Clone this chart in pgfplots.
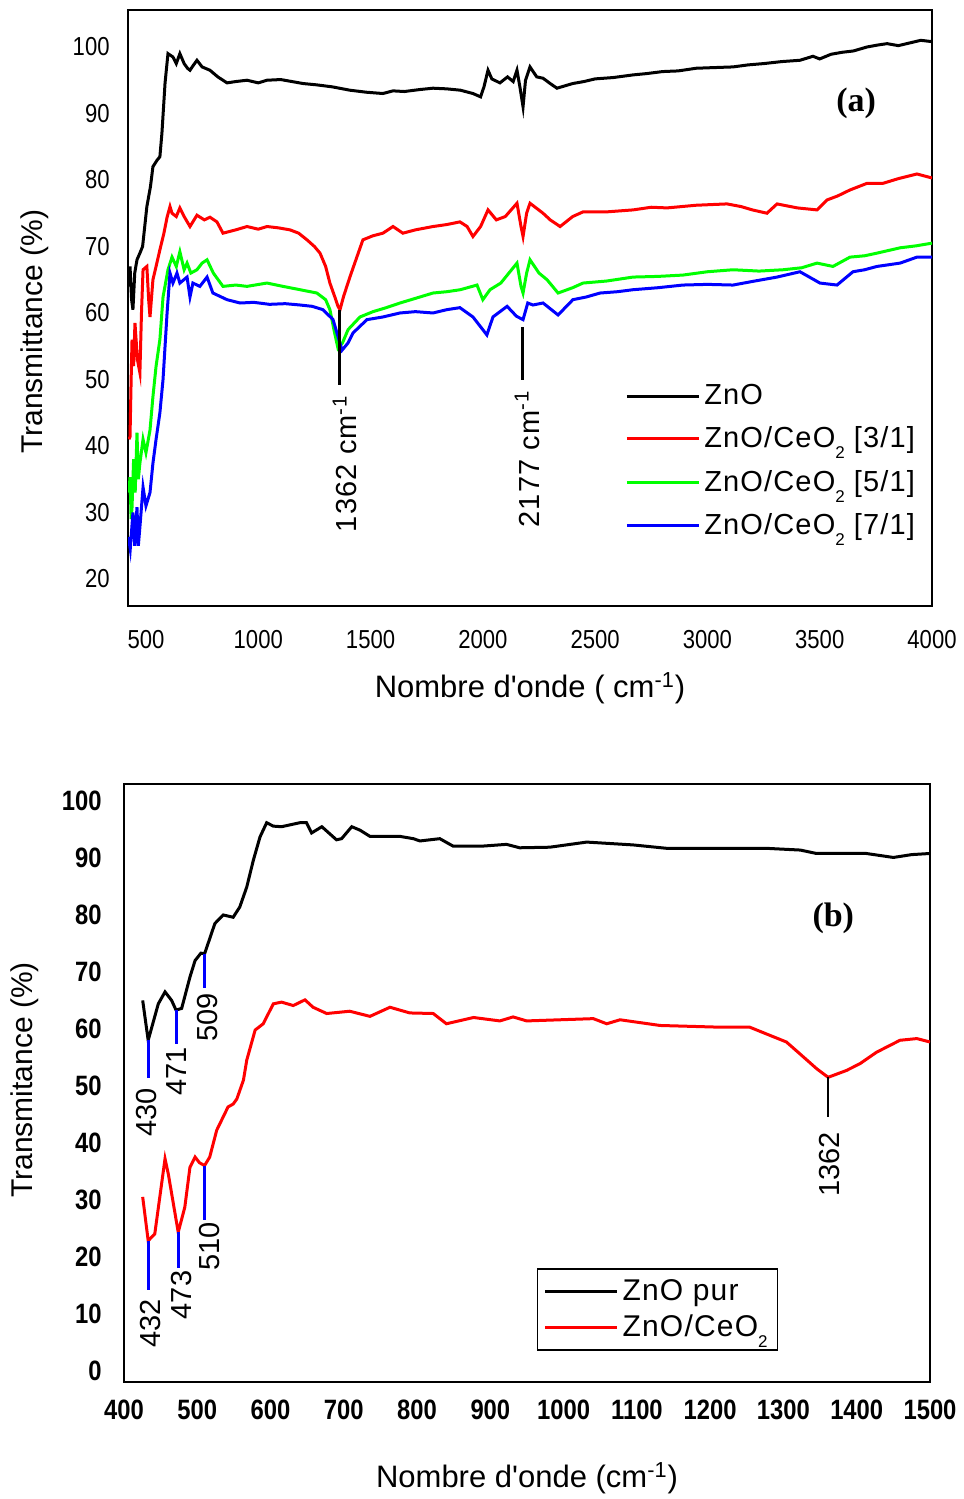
\documentclass[border=0pt]{standalone}
\usepackage{fontspec}
\setmainfont{Liberation Sans}
\newfontfamily\narrowfont[FakeStretch=0.85]{Liberation Sans}
\newfontfamily\legfont[LetterSpace=4]{Liberation Sans}
\newfontfamily\tnr{Liberation Serif}
\usepackage{pgfplots}
\pgfplotsset{compat=1.18}
\definecolor{cred}{RGB}{255,0,0}
\definecolor{cgreen}{RGB}{0,255,0}
\definecolor{cblue}{RGB}{0,0,255}
\newcommand{\subtwo}{\raisebox{-5.5bp}{\fontsize{8.5bp}{8.5bp}\selectfont 2}}

\begin{document}
\begin{tikzpicture}
\path[use as bounding box] (0bp,0bp) rectangle (482bp,749.5bp);
% --- (a) full range spectra ---
\begin{axis}[
    at={(64bp,446.5bp)}, anchor=south west,
    scale only axis, width=402bp, height=298bp,
    xmin=420, xmax=4000, ymin=15.94, ymax=105.56,
    xtick={500,1000,...,4000}, ytick={20,30,...,100},
    major tick length=0pt,
    axis line style={line width=1.2bp},
    /pgf/number format/1000 sep={},
    /pgf/number format/assume math mode=true,
    ticklabel style={font=\narrowfont\fontsize{13bp}{15bp}\selectfont},
    xticklabel style={anchor=center, yshift=-17bp},
    yticklabel style={anchor=east, inner sep=0pt, xshift=-9bp},
    xlabel={Nombre d\textquotesingle onde ( cm\textsuperscript{-1})},
    xlabel style={font=\fontsize{15.5bp}{17bp}\selectfont, at={(axis description cs:0.5,-0.1376)}, anchor=center},
    ylabel={Transmittance (\%)},
    ylabel style={font=\fontsize{15bp}{17bp}\selectfont, at={(axis description cs:-0.1157,0.46)}, anchor=center},
    no markers,
    every axis plot/.append style={line width=1.5bp},
    legend style={at={(0.618,0.379)}, anchor=north west, draw=none, fill=none,
                  font=\legfont\fontsize{14.5bp}{17bp}\selectfont, inner sep=0pt, row sep=5.6bp},
    legend cell align=left,
    legend image code/.code={\draw[#1] (0bp,0bp) -- (36bp,0bp);}
]
\addplot[black] coordinates {(422,64)(429,67)(436,62)(442,60.5)(450,66)(460,68)(473,69)(485,70)(504,76)(520,79)(531,82)(550,83)(562,83.5)(571,87)(585,94.6)(598,99)(620,98.5)(635,97.5)(651,99)(670,97.5)(685,96.8)(696,96.5)(710,97.2)(727,98)(750,97)(785,96.5)(820,95.5)(861,94.6)(900,94.8)(950,95)(1000,94.6)(1039,95)(1100,95.1)(1150,94.8)(1200,94.5)(1261,94.3)(1330,94)(1408,93.5)(1480,93.2)(1555,93)(1600,93.4)(1650,93.3)(1720,93.6)(1778,93.8)(1840,93.7)(1900,93.5)(1956,93)(1990,92.5)(2005,94)(2023,96.5)(2040,95.2)(2076,94.6)(2110,95.5)(2135,94.8)(2152,96.5)(2165,94)(2179,91)(2190,95)(2210,97)(2240,95.5)(2268,95.3)(2300,94.5)(2330,93.8)(2400,94.5)(2450,94.8)(2500,95.2)(2580,95.4)(2669,95.8)(2730,96)(2800,96.3)(2870,96.4)(2950,96.8)(3030,96.9)(3114,97)(3180,97.3)(3250,97.5)(3330,97.8)(3412,98)(3470,98.6)(3500,98.2)(3550,98.9)(3600,99.2)(3650,99.4)(3711,100)(3760,100.3)(3800,100.5)(3850,100.2)(3900,100.6)(3950,101)(4000,100.8)};
\addlegendentry{ZnO}
\addplot[cred] coordinates {(424,41)(429,41.4)(434,50)(438,56)(445,52)(451,58.5)(462,53)(473,51)(480,60)(487,66.5)(504,67)(512,62)(518,59.4)(531,65)(545,67)(562,69.5)(580,72)(594,74.4)(607,76)(616,75)(635,74.5)(651,75.8)(670,74.5)(696,73)(727,74.7)(760,74)(785,74.4)(816,73.7)(843,72)(900,72.5)(950,73)(1000,72.6)(1039,73)(1090,72.8)(1141,72.5)(1180,72)(1217,71)(1250,70)(1275,69)(1300,67)(1319,64.5)(1340,62.5)(1355,61)(1364,60.5)(1380,62.5)(1408,65.4)(1440,68.5)(1466,71)(1510,71.6)(1555,72)(1600,73)(1644,72)(1700,72.5)(1778,73)(1840,73.3)(1898,73.7)(1930,73)(1956,71.5)(1990,73)(2023,75.5)(2060,74)(2100,74.5)(2152,76.5)(2170,73)(2179,71.5)(2195,75)(2210,76.5)(2268,75)(2300,74)(2344,73)(2400,74.5)(2446,75.2)(2550,75.2)(2669,75.5)(2750,75.9)(2820,75.8)(2950,76.2)(3087,76.4)(3150,76)(3200,75.5)(3265,75)(3310,76.4)(3400,75.8)(3488,75.5)(3533,77)(3580,77.6)(3635,78.5)(3711,79.5)(3782,79.5)(3850,80.2)(3933,80.9)(4000,80.3)};
\addlegendentry{ZnO/CeO\subtwo\ [3/1]}
\addplot[cgreen] coordinates {(424,33)(429,35.3)(434,29)(438,30.8)(445,38)(452,33)(460,42)(466,35)(473,37.4)(487,41)(500,39)(518,42.4)(531,47.4)(545,52)(562,56)(576,62.4)(598,66.5)(616,68.4)(635,67)(651,69.2)(670,66.5)(683,67.5)(700,66)(727,66.5)(750,67.5)(772,68)(800,66)(843,64)(900,64.2)(950,64)(1039,64.5)(1110,64)(1186,63.5)(1261,63)(1300,62)(1319,60.5)(1340,57)(1355,54.7)(1375,55.5)(1400,57.5)(1453,59.4)(1511,60.2)(1570,60.8)(1631,61.5)(1700,62.2)(1778,63)(1840,63.2)(1900,63.5)(1974,64.2)(2000,62)(2032,63.5)(2080,64.5)(2152,67.5)(2170,64)(2179,63)(2195,66)(2210,68)(2250,66)(2286,65)(2335,63)(2400,63.8)(2446,64.5)(2550,64.8)(2669,65.4)(2780,65.5)(2891,65.7)(3000,66.2)(3114,66.5)(3230,66.3)(3337,66.5)(3420,66.8)(3488,67.5)(3559,67)(3635,68.4)(3700,68.6)(3755,69)(3858,69.8)(3930,70.1)(4000,70.5)};
\addlegendentry{ZnO/CeO\subtwo\ [5/1]}
\addplot[cblue] coordinates {(422,26.3)(430,24.5)(442,30)(450,25)(460,30.8)(466,25)(473,27.8)(487,33.8)(500,31)(518,33)(531,37.4)(545,41)(562,45)(576,50)(594,60)(607,66)(620,64.5)(638,66)(651,64.5)(683,65.4)(696,62.4)(709,64.5)(740,64)(772,65.4)(798,63)(861,62)(919,61.5)(980,61.6)(1050,61.3)(1120,61.4)(1186,61.2)(1240,61)(1288,60.5)(1333,59)(1373,54.4)(1400,55.5)(1422,57)(1484,59)(1555,59.4)(1631,60)(1700,60.2)(1778,60)(1840,60.5)(1898,60.8)(1956,59.4)(2018,56.7)(2045,59.4)(2108,61)(2150,59.5)(2179,59)(2200,61.5)(2223,61.2)(2268,61.5)(2335,59.7)(2401,62)(2460,62.4)(2522,63)(2600,63.2)(2669,63.5)(2780,63.8)(2891,64.2)(3000,64.3)(3114,64.2)(3210,64.8)(3310,65.4)(3412,66.2)(3501,64.5)(3577,64.2)(3648,66.2)(3700,66.5)(3755,67)(3858,67.5)(3933,68.4)(4000,68.4)};
\addlegendentry{ZnO/CeO\subtwo\ [7/1]}
% peak markers
\draw[line width=1.5bp] (axis cs:1362,60.5) -- (axis cs:1362,49.2);
\draw[line width=1.5bp] (axis cs:2177,57.9) -- (axis cs:2177,49.9);
\node[rotate=90, anchor=east, inner sep=0pt, font=\legfont\fontsize{14.5bp}{15bp}\selectfont] at (axis cs:1386,47.7) {1362 cm\textsuperscript{-1}};
\node[rotate=90, anchor=east, inner sep=0pt, font=\legfont\fontsize{14.5bp}{15bp}\selectfont] at (axis cs:2197,48.4) {2177 cm\textsuperscript{-1}};
\node[font=\tnr\bfseries\fontsize{17bp}{17bp}\selectfont] at (axis cs:3662,91.6) {(a)};
\end{axis}
% --- (b) zoom 400-1500 ---
\begin{axis}[
    at={(62bp,58.5bp)}, anchor=south west,
    scale only axis, width=403bp, height=299bp,
    xmin=400, xmax=1500, ymin=-2, ymax=103,
    xtick={400,500,...,1500}, ytick={0,10,...,100},
    major tick length=0pt,
    axis line style={line width=0.9bp},
    /pgf/number format/1000 sep={},
    /pgf/number format/assume math mode=true,
    ticklabel style={font=\narrowfont\bfseries\fontsize{14bp}{16bp}\selectfont},
    xticklabel style={anchor=center, yshift=-14bp},
    yticklabel style={anchor=east, inner sep=0pt, xshift=-11bp},
    xlabel={Nombre d\textquotesingle onde (cm\textsuperscript{-1})},
    xlabel style={font=\fontsize{15.5bp}{17bp}\selectfont, at={(axis description cs:0.5,-0.1605)}, anchor=center},
    ylabel={Transmitance (\%)},
    ylabel style={font=\fontsize{15bp}{17bp}\selectfont, at={(axis description cs:-0.1228,0.505)}, anchor=center},
    no markers,
    every axis plot/.append style={line width=1.5bp},
    legend style={at={(0.512,0.190)}, anchor=north west, draw=black, line width=0.9bp, fill=white,
                  font=\legfont\fontsize{15bp}{17bp}\selectfont, inner xsep=3bp, inner ysep=3bp, row sep=2bp},
    legend cell align=left,
    legend image code/.code={\draw[#1] (0bp,0bp) -- (36bp,0bp);}
]
\addplot[black] coordinates {(425.5,65)(433,58)(446.8,64.4)(456,66.5)(465,65)(471,63.3)(478.7,63.6)(490,69.1)(497,72)(505,73.3)(510,73.2)(524,78.5)(535.5,80)(549,79.6)(558,81.4)(567.5,84.9)(576.5,89.6)(585.6,93.7)(594.7,96.2)(603.8,95.6)(615,95.5)(640,96.2)(649,96.2)(656,94.4)(670,95.5)(690,93.2)(697,93.4)(710.8,95.5)(722,94.9)(735.7,93.8)(776.7,93.8)(794.8,93.4)(804,93)(831,93.4)(849,92.1)(890,92.1)(922,92.4)(940,91.8)(981,91.9)(1031.5,92.8)(1095,92.3)(1141,91.7)(1232,91.7)(1277,91.7)(1323,91.4)(1345,90.8)(1413,90.8)(1450,90.1)(1475,90.6)(1500,90.8)};
\addlegendentry{ZnO pur}
\addplot[cred] coordinates {(425.5,30.5)(433,22.8)(442,24)(456,37.2)(460.5,34.5)(474,24.3)(483,28.7)(490,35.7)(497,37.5)(503,36.5)(510,36)(517,37.5)(526.5,42.2)(542,46.3)(549,46.8)(554,47.7)(563,51)(567.5,54.5)(579,59.8)(590,60.9)(603.8,64.4)(615,64.7)(631,64.1)(647,65.1)(658,63.8)(676.6,62.7)(708,63.1)(735.7,62.2)(763,63.8)(790,62.8)(822,62.7)(840,60.9)(877,62)(913,61.4)(931,62.1)(949.6,61.4)(1040.5,61.8)(1058.8,60.9)(1077,61.6)(1131.5,60.6)(1213,60.3)(1254,60.3)(1277,59.1)(1304,57.7)(1322.6,55.6)(1345.4,53)(1361,51.5)(1386,52.7)(1404.5,53.9)(1427,55.9)(1459,58)(1482,58.3)(1500,57.7)};
\addlegendentry{ZnO/CeO\subtwo}
% band markers
\draw[cblue, line width=1.5bp] (axis cs:433,58) -- (axis cs:433,51.3);
\draw[cblue, line width=1.5bp] (axis cs:471,63.3) -- (axis cs:471,57.4);
\draw[cblue, line width=1.5bp] (axis cs:510,73.2) -- (axis cs:510,67.1);
\draw[cblue, line width=1.5bp] (axis cs:433,22.8) -- (axis cs:433,14.1);
\draw[cblue, line width=1.5bp] (axis cs:474,24.3) -- (axis cs:474,18.1);
\draw[cblue, line width=1.5bp] (axis cs:510,36) -- (axis cs:510,26.4);
\draw[black, line width=0.9bp] (axis cs:1361,51.5) -- (axis cs:1361,44.5);
\begin{scope}[every node/.style={rotate=90, anchor=east, inner sep=0pt, font=\fontsize{14.5bp}{15bp}\selectfont}]
\node at (axis cs:431,49.7) {430};
\node at (axis cs:472,56.8) {471};
\node at (axis cs:513.7,66.3) {509};
\node at (axis cs:436,12.6) {432};
\node at (axis cs:478.7,17.6) {473};
\node at (axis cs:517,26.1) {510};
\node at (axis cs:1363.5,41.9) {1362};
\end{scope}
\node[font=\tnr\bfseries\fontsize{17bp}{17bp}\selectfont] at (axis cs:1368,79.4) {(b)};
\end{axis}
\end{tikzpicture}
\end{document}
